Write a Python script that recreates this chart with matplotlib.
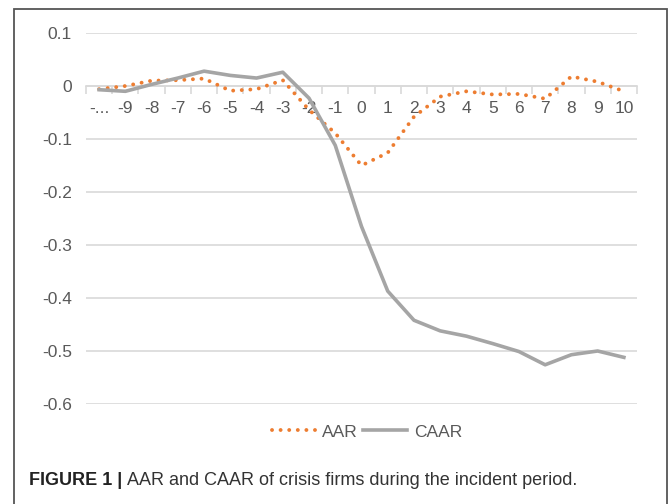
import matplotlib
matplotlib.use("Agg")
import matplotlib.pyplot as plt
from matplotlib.patches import Rectangle
from matplotlib.ticker import FixedLocator

plt.rcParams["font.family"] = ["Liberation Sans", "DejaVu Sans"]

days = ["-...", "-9", "-8", "-7", "-6", "-5", "-4", "-3", "-2", "-1",
        "0", "1", "2", "3", "4", "5", "6", "7", "8", "9", "10"]
aar = [-0.006, 0.000, 0.010, 0.011, 0.014, -0.009, -0.006, 0.011, -0.045, -0.089,
       -0.150, -0.126, -0.058, -0.020, -0.010, -0.016, -0.015, -0.024, 0.018, 0.008, -0.010]
caar = [-0.007, -0.010, 0.003, 0.015, 0.028, 0.020, 0.015, 0.026, -0.023, -0.112,
        -0.265, -0.387, -0.442, -0.462, -0.472, -0.486, -0.501, -0.526, -0.507, -0.500, -0.512]
yticks = [0.1, 0.0, -0.1, -0.2, -0.3, -0.4, -0.5, -0.6]
ytick_labels = ["0.1", "0", "-0.1", "-0.2", "-0.3", "-0.4", "-0.5", "-0.6"]

ORANGE = "#ED7D31"
GREY = "#A5A5A5"
TEXT = "#595959"
GRID = "#D9D9D9"

fig = plt.figure(figsize=(6.69, 5.04), dpi=100)
ax = fig.add_axes([86 / 669, 1 - 404 / 504, (637 - 86) / 669, (404 - 33) / 504])

x = list(range(len(days)))
ax.plot(x, aar, color=ORANGE, lw=2.8, linestyle=(0, (0.01, 2.2)),
        dash_capstyle="round", label="AAR", zorder=3)
ax.plot(x, caar, color=GREY, lw=2.6, label="CAAR", zorder=4)

ax.set_xlim(-0.5, len(days) - 0.5)
ax.set_ylim(-0.6, 0.1)

ax.set_yticks(yticks)
ax.set_yticklabels(ytick_labels)
ax.yaxis.grid(True, color=GRID, lw=1.2)
ax.set_axisbelow(True)
ax.tick_params(axis="y", length=0, pad=10, labelsize=12.5, labelcolor=TEXT)

# category axis sits on y = 0, ticks between categories
for side in ["left", "right", "top"]:
    ax.spines[side].set_visible(False)
ax.spines["bottom"].set_position(("data", 0))
ax.spines["bottom"].set_color(GRID)
ax.spines["bottom"].set_linewidth(1.2)
ax.set_xticks(x)
ax.set_xticklabels(days)
ax.xaxis.set_minor_locator(FixedLocator([i - 0.5 for i in range(len(days) + 1)]))
ax.tick_params(axis="x", which="major", length=0, pad=11, labelsize=12.5, labelcolor=TEXT)
ax.tick_params(axis="x", which="minor", length=6, width=1.2, color=GRID)

fig.legend(loc="center", bbox_to_anchor=(367 / 669, 1 - 432 / 504), ncol=2,
           frameon=False, fontsize=12.5, labelcolor=TEXT, handlelength=2.5,
           handletextpad=0.4, columnspacing=0.3)

# caption
cap_y = 1 - 485 / 504
bold = fig.text(29 / 669, cap_y, "FIGURE 1 | ", fontsize=13, fontweight="bold",
                color="#222222", va="baseline")
fig.canvas.draw()
bb = bold.get_window_extent(renderer=fig.canvas.get_renderer())
fig.text(bb.x1 / fig.bbox.width, cap_y, "AAR and CAAR of crisis firms during the incident period.",
         fontsize=13, color="#333333", va="baseline")

# outer frame (bottom edge runs past the image)
fig.patches.append(Rectangle((14 / 669, -0.1), (667 - 14) / 669, 1.1 - 9 / 504,
                             transform=fig.transFigure, fill=False,
                             edgecolor="#555555", lw=1.3, clip_on=False))

fig.savefig("out.png", dpi=100)
